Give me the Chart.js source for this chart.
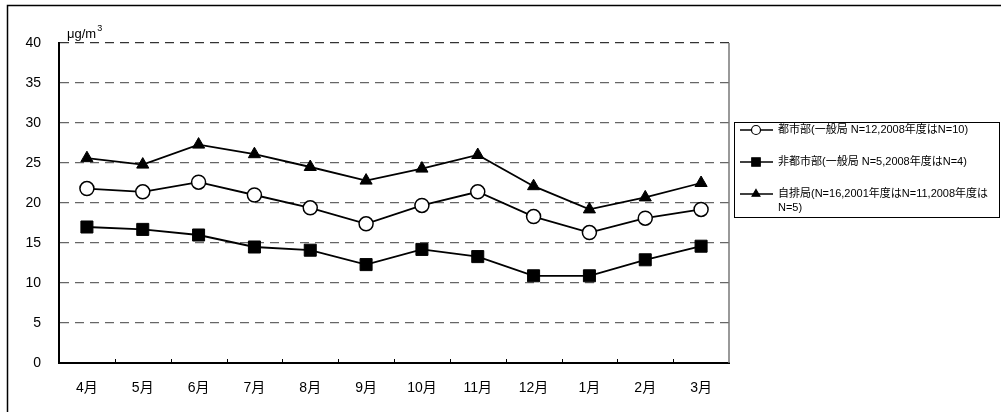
<!DOCTYPE html>
<html>
<head>
<meta charset="utf-8">
<script src="https://cdn.jsdelivr.net/npm/chart.js@4/dist/chart.umd.min.js"></script>
<style>
  html, body { margin: 0; padding: 0; background: #fff; }
  #wrap { width: 1001px; height: 412px; }
</style>
</head>
<body>
<div id="wrap"><canvas id="pm25Chart" width="1001" height="412"></canvas></div>
<script>
const months = ['4月', '5月', '6月', '7月', '8月', '9月', '10月', '11月', '12月', '1月', '2月', '3月'];
const seriesNames = [
  '都市部(一般局 N=12,2008年度はN=10)',
  '非都市部(一般局 N=5,2008年度はN=4)',
  '自排局(N=16,2001年度はN=11,2008年度はN=5)'
];
const urban = [21.8, 21.4, 22.6, 21.0, 19.4, 17.4, 19.7, 21.4, 18.3, 16.3, 18.1, 19.2];
const nonUrban = [17.0, 16.7, 16.0, 14.5, 14.1, 12.3, 14.2, 13.3, 10.9, 10.9, 12.9, 14.6];
const roadside = [25.6, 24.8, 27.3, 26.1, 24.5, 22.8, 24.3, 26.0, 22.1, 19.2, 20.7, 22.5];
const yMin = 0, yMax = 40, yStep = 5;
const unitText = 'μg/m';

const mixFont = '"Liberation Sans", "Noto Sans CJK JP", sans-serif';

// outer frame, plot right edge, inward ticks, unit label and legend box
const decor = {
  id: 'decor',
  beforeDraw(chart) {
    const ctx = chart.ctx;
    ctx.save();
    ctx.fillStyle = '#fff';
    ctx.fillRect(0, 0, chart.width, chart.height);
    ctx.strokeStyle = '#000';
    ctx.lineWidth = 1.5;
    ctx.beginPath();
    ctx.moveTo(7.5, chart.height);
    ctx.lineTo(7.5, 5.5);
    ctx.lineTo(chart.width, 5.5);
    ctx.stroke();
    ctx.restore();
  },
  afterDraw(chart) {
    const ctx = chart.ctx;
    const a = chart.chartArea;
    const x = chart.scales.x;
    ctx.save();
    // right edge of plot
    ctx.strokeStyle = '#777';
    ctx.lineWidth = 1.5;
    ctx.beginPath();
    ctx.moveTo(a.right, a.top);
    ctx.lineTo(a.right, a.bottom);
    ctx.stroke();
    // small ticks between categories
    ctx.strokeStyle = '#000';
    ctx.lineWidth = 1;
    for (let i = 0; i < months.length - 1; i++) {
      const bx = Math.round((x.getPixelForTick(i) + x.getPixelForTick(i + 1)) / 2) + 0.5;
      ctx.beginPath();
      ctx.moveTo(bx, a.bottom);
      ctx.lineTo(bx, a.bottom - 4);
      ctx.stroke();
    }
    // unit label
    ctx.fillStyle = '#000';
    ctx.textBaseline = 'alphabetic';
    ctx.font = '13px ' + mixFont;
    ctx.fillText(unitText, 67, 38);
    const w = ctx.measureText(unitText).width;
    ctx.font = '9px ' + mixFont;
    ctx.fillText('3', 67 + w + 1, 31);

    // legend
    const lx = 734, ly = 122, lw = 265, lh = 95;
    ctx.strokeStyle = '#000';
    ctx.lineWidth = 1;
    ctx.strokeRect(lx + 0.5, ly + 0.5, lw, lh);
    ctx.font = '11px ' + mixFont;
    ctx.textBaseline = 'middle';
    const maxW = lx + lw - 778 - 2;
    chart.data.datasets.forEach((ds, i) => {
      const y = 130 + 32 * i;
      ctx.strokeStyle = '#000';
      ctx.lineWidth = 1.5;
      ctx.beginPath();
      ctx.moveTo(740, y);
      ctx.lineTo(773, y);
      ctx.stroke();
      ctx.fillStyle = ds.pointBackgroundColor;
      ctx.strokeStyle = '#000';
      ctx.lineWidth = 1.2;
      Chart.helpers.drawPoint(ctx, {
        pointStyle: ds.pointStyle,
        radius: ds.pointStyle === 'rect' ? 6 : 4.5,
        borderWidth: 1.2,
        rotation: 0
      }, 756, y);
      // wrap label text
      const tokens = ds.label.match(/[A-Za-z0-9=,.()]+|./g);
      let line = '', lines = [];
      tokens.forEach(t => {
        if (line && ctx.measureText(line + t).width > maxW) {
          lines.push(line);
          line = t;
        } else {
          line += t;
        }
      });
      lines.push(line);
      ctx.fillStyle = '#000';
      lines.forEach((l, k) => ctx.fillText(l, 778, y + k * 14));
    });
    ctx.restore();
  }
};

const ctx = document.getElementById('pm25Chart').getContext('2d');
new Chart(ctx, {
  type: 'line',
  data: {
    labels: months,
    datasets: [
      {
        label: seriesNames[0],
        data: urban,
        borderColor: '#000',
        borderWidth: 1.8,
        pointStyle: 'circle',
        pointRadius: 7,
        pointBackgroundColor: '#fff',
        pointBorderColor: '#000',
        pointBorderWidth: 1.5
      },
      {
        label: seriesNames[1],
        data: nonUrban,
        borderColor: '#000',
        borderWidth: 1.8,
        pointStyle: 'rect',
        pointRadius: 8.5,
        pointBackgroundColor: '#000',
        pointBorderColor: '#000',
        pointBorderWidth: 1
      },
      {
        label: seriesNames[2],
        data: roadside,
        borderColor: '#000',
        borderWidth: 1.8,
        pointStyle: 'triangle',
        pointRadius: 7,
        pointBackgroundColor: '#000',
        pointBorderColor: '#000',
        pointBorderWidth: 1
      }
    ]
  },
  options: {
    responsive: false,
    animation: false,
    devicePixelRatio: 1,
    layout: { padding: { top: 43, right: 272, bottom: 0, left: 0 } },
    plugins: {
      legend: { display: false },
      tooltip: { enabled: false }
    },
    elements: { line: { tension: 0 } },
    scales: {
      x: {
        offset: true,
        afterFit: function (scale) { scale.height = 49; },
        grid: { display: false, drawTicks: false },
        border: { display: true, color: '#000', width: 2 },
        ticks: {
          color: '#000',
          padding: 17,
          maxRotation: 0,
          font: { family: mixFont, size: 14 }
        }
      },
      y: {
        min: yMin,
        max: yMax,
        afterFit: function (scale) { scale.width = 59; },
        grid: {
          drawTicks: false,
          lineWidth: 1.2,
          color: function (c) {
            if (c.tick.value === yMin) return 'rgba(0,0,0,0)';
            if (c.tick.value === yMax) return '#333';
            return '#666';
          }
        },
        border: { display: true, color: '#000', width: 2, dash: [9, 6] },
        ticks: {
          stepSize: yStep,
          color: '#000',
          padding: 18,
          font: { family: mixFont, size: 14 }
        }
      }
    }
  },
  plugins: [decor]
});
</script>
</body>
</html>
